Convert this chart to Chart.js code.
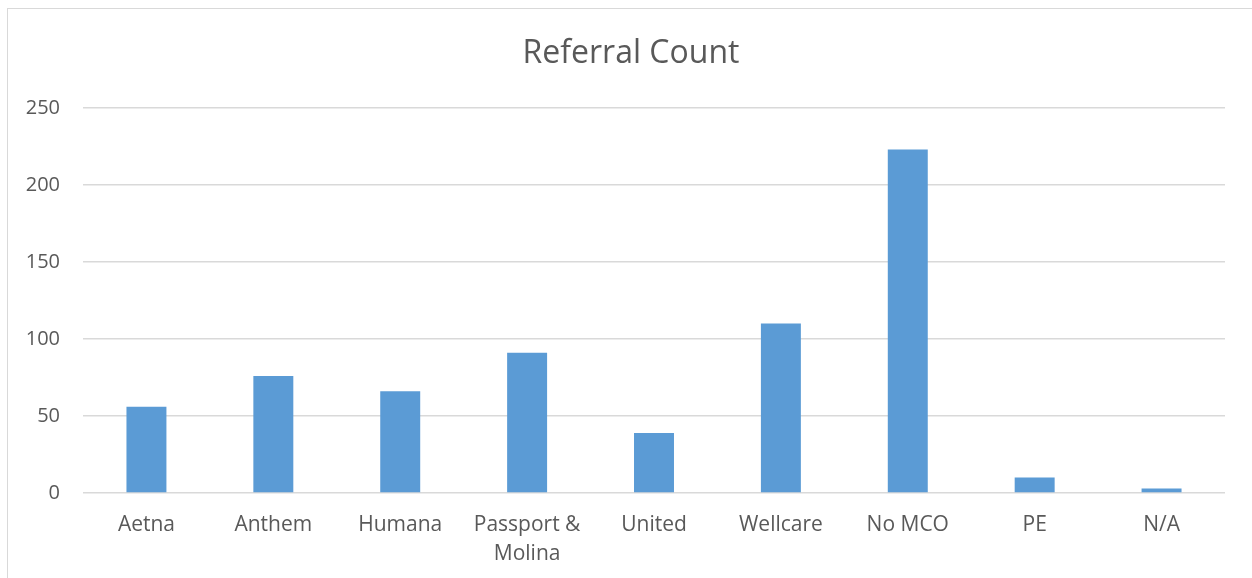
<!DOCTYPE html>
<html>
<head>
<meta charset="utf-8">
<script src="https://cdn.jsdelivr.net/npm/chart.js@4.4.0/dist/chart.umd.min.js"></script>
<style>
html,body{margin:0;padding:0;background:#fff;}
#wrap{position:relative;width:1252px;height:578px;overflow:hidden;}
#frame{position:absolute;left:7px;top:8px;width:1400px;height:700px;border:1px solid #d9d9d9;box-sizing:border-box;}
canvas{position:absolute;left:0;top:0;}
</style>
</head>
<body>
<div id="wrap"><div id="frame"></div><canvas id="c" width="1252" height="578"></canvas></div>
<script>
const categories = ["Aetna", "Anthem", "Humana", ["Passport &", "Molina"], "United", "Wellcare", "No MCO", "PE", "N/A"];
const referralCounts = [56, 76, 66, 91, 39, 110, 223, 10, 3];
const yTicks = [0, 50, 100, 150, 200, 250];
const chartTitle = "Referral Count";

const FONT = "'Open Sans', 'Noto Sans', sans-serif";
const TEXT = "#595959";

const titlePlugin = {
  id: 'frameTitle',
  afterDraw(chart) {
    const ctx = chart.ctx;
    ctx.save();
    ctx.fillStyle = TEXT;
    ctx.font = "32px " + FONT;
    ctx.textAlign = 'center';
    ctx.textBaseline = 'middle';
    ctx.fillText(chartTitle, 631, 54);
    ctx.restore();
  }
};

new Chart(document.getElementById('c'), {
  type: 'bar',
  data: {
    labels: categories,
    datasets: [{
      label: chartTitle,
      data: referralCounts,
      backgroundColor: '#5b9bd5',
      borderWidth: 0,
      barPercentage: 0.315,
      categoryPercentage: 1.0
    }]
  },
  options: {
    responsive: false,
    animation: false,
    layout: { padding: { left: 0, right: 27, top: 108, bottom: 0 } },
    plugins: {
      legend: { display: false },
      tooltip: { enabled: false },
      title: { display: false }
    },
    scales: {
      x: {
        grid: { display: false, drawTicks: false },
        border: { display: false },
        ticks: {
          color: TEXT,
          font: { family: FONT, size: 21, lineHeight: 1.35 },
          padding: 18,
          maxRotation: 0,
          autoSkip: false
        },
        afterFit: s => { s.height = 85; }
      },
      y: {
        min: 0, max: 250,
        afterBuildTicks: s => { s.ticks = yTicks.map(v => ({ value: v })); },
        grid: { color: '#d9d9d9', lineWidth: 1.5, drawTicks: false },
        border: { display: false },
        ticks: {
          color: TEXT,
          font: { family: FONT, size: 20 },
          padding: 23
        },
        afterFit: s => { s.width = 83; }
      }
    }
  },
  plugins: [titlePlugin]
});
</script>
</body>
</html>
